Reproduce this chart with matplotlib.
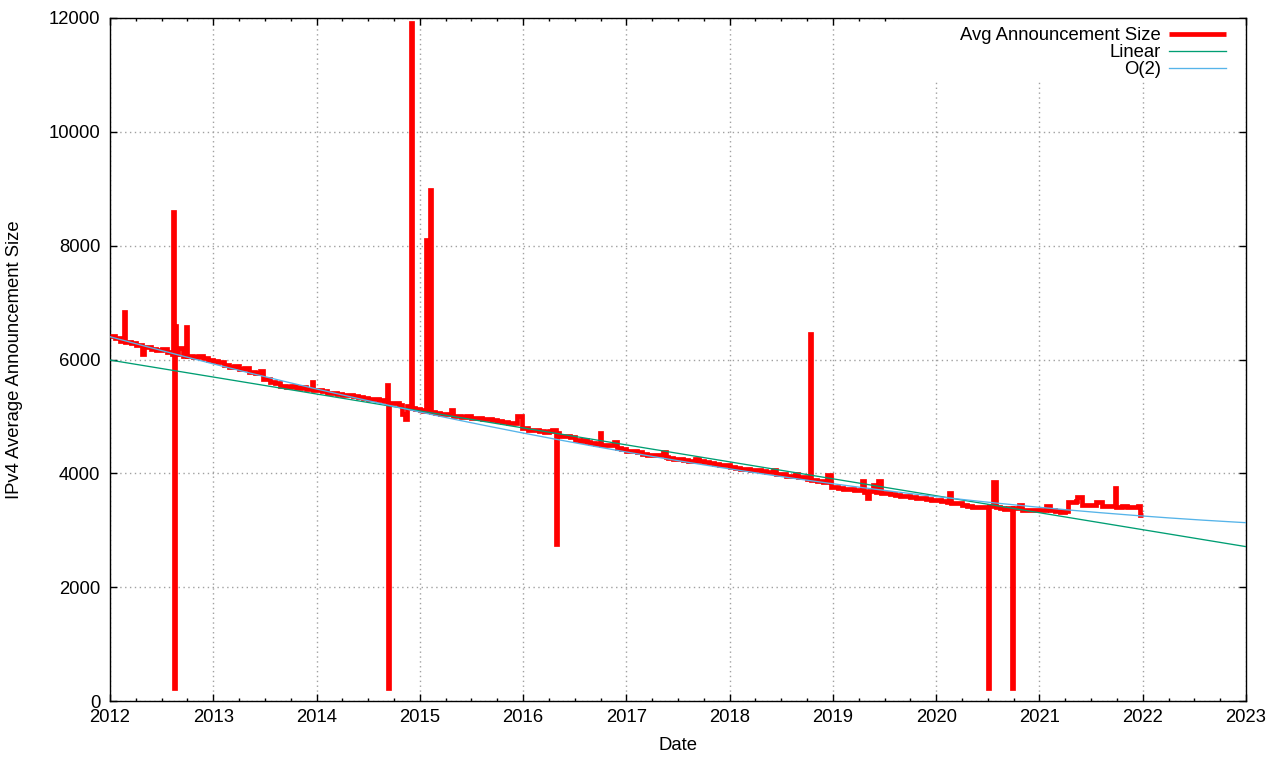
import numpy as np
import matplotlib
matplotlib.use("Agg")
import matplotlib.pyplot as plt
from matplotlib.ticker import MultipleLocator, FixedLocator
from matplotlib.patches import Rectangle

plt.rcParams['font.family'] = ['Liberation Sans', 'DejaVu Sans']

# ---- data (decimal years, average announcement size) ----
years = [
    2012.00, 2012.05, 2012.10, 2012.14, 2012.15, 2012.20, 2012.25, 2012.31, 2012.33, 2012.40,
    2012.45, 2012.50, 2012.55, 2012.60, 2012.612, 2012.618, 2012.624, 2012.630, 2012.640, 2012.660,
    2012.710, 2012.740, 2012.750, 2012.80, 2012.85, 2012.90, 2012.95, 2013.00, 2013.05, 2013.10,
    2013.15, 2013.20, 2013.25, 2013.30, 2013.35, 2013.40, 2013.45, 2013.48, 2013.55, 2013.60,
    2013.65, 2013.70, 2013.75, 2013.80, 2013.85, 2013.90, 2013.955, 2013.965, 2014.00, 2014.05,
    2014.10, 2014.15, 2014.20, 2014.25, 2014.30, 2014.35, 2014.40, 2014.45, 2014.50, 2014.55,
    2014.60, 2014.65, 2014.685, 2014.695, 2014.705, 2014.75, 2014.80, 2014.83, 2014.86, 2014.88,
    2014.915, 2014.925, 2014.95, 2015.00, 2015.03, 2015.06, 2015.07, 2015.10, 2015.11, 2015.15,
    2015.20, 2015.25, 2015.30, 2015.32, 2015.35, 2015.40, 2015.45, 2015.50, 2015.55, 2015.60,
    2015.65, 2015.70, 2015.75, 2015.80, 2015.85, 2015.90, 2015.94, 2015.985, 2016.05, 2016.10,
    2016.15, 2016.20, 2016.25, 2016.28, 2016.315, 2016.325, 2016.35, 2016.40, 2016.45, 2016.50,
    2016.55, 2016.58, 2016.62, 2016.65, 2016.70, 2016.74, 2016.75, 2016.80, 2016.85, 2016.88,
    2016.91, 2016.95, 2017.00, 2017.05, 2017.10, 2017.15, 2017.20, 2017.25, 2017.30, 2017.35,
    2017.38, 2017.40, 2017.45, 2017.50, 2017.55, 2017.60, 2017.66, 2017.70, 2017.75, 2017.80,
    2017.85, 2017.90, 2017.95, 2018.00, 2018.05, 2018.10, 2018.15, 2018.20, 2018.25, 2018.30,
    2018.35, 2018.42, 2018.45, 2018.50, 2018.55, 2018.60, 2018.63, 2018.66, 2018.70, 2018.75,
    2018.775, 2018.785, 2018.85, 2018.90, 2018.94, 2018.98, 2019.05, 2019.10, 2019.15, 2019.20,
    2019.25, 2019.28, 2019.30, 2019.33, 2019.35, 2019.39, 2019.42, 2019.44, 2019.47, 2019.50,
    2019.55, 2019.60, 2019.65, 2019.70, 2019.75, 2019.80, 2019.85, 2019.90, 2019.95, 2020.00,
    2020.05, 2020.10, 2020.12, 2020.14, 2020.20, 2020.25, 2020.30, 2020.35, 2020.40, 2020.45,
    2020.50, 2020.505, 2020.515, 2020.555, 2020.575, 2020.62, 2020.66, 2020.70, 2020.73, 2020.74,
    2020.80, 2020.83, 2020.90, 2020.95, 2021.00, 2021.05, 2021.06, 2021.10, 2021.15, 2021.20,
    2021.25, 2021.28, 2021.35, 2021.36, 2021.41, 2021.45, 2021.50, 2021.55, 2021.61, 2021.65,
    2021.70, 2021.735, 2021.745, 2021.80, 2021.85, 2021.90, 2021.95, 2021.97, 2022.00,
]
avg_size = [
    6420, 6380, 6330, 6840, 6300, 6290, 6260, 6090, 6220, 6190,
    6160, 6180, 6130, 6100, 8600, 3170, 230, 6590, 6100, 6200,
    6060, 6570, 6060, 6050, 6070, 6020, 5990, 5980, 5950, 5900,
    5870, 5880, 5830, 5850, 5780, 5760, 5790, 5650, 5600, 5580,
    5540, 5520, 5540, 5500, 5510, 5480, 5610, 5470, 5460, 5440,
    5420, 5410, 5400, 5380, 5370, 5350, 5340, 5320, 5310, 5300,
    5280, 5270, 5550, 230, 5240, 5230, 5200, 5050, 4960, 5180,
    11920, 5150, 5130, 5110, 5100, 8100, 5100, 8980, 5080, 5060,
    5050, 5040, 5110, 5010, 5000, 4990, 5000, 4980, 4970, 4960,
    4950, 4940, 4920, 4900, 4890, 4880, 5010, 4790, 4770, 4760,
    4740, 4720, 4740, 4760, 2750, 4700, 4660, 4650, 4630, 4580,
    4560, 4590, 4550, 4530, 4510, 4710, 4500, 4490, 4500, 4550,
    4440, 4420, 4400, 4390, 4370, 4340, 4320, 4330, 4320, 4370,
    4280, 4270, 4260, 4250, 4230, 4220, 4260, 4210, 4200, 4180,
    4160, 4150, 4140, 4110, 4090, 4080, 4070, 4060, 4050, 4040,
    4030, 4060, 3990, 3980, 3960, 3950, 3990, 3940, 3930, 3900,
    6450, 3880, 3860, 3850, 3970, 3760, 3740, 3730, 3720, 3710,
    3700, 3860, 3680, 3570, 3690, 3800, 3680, 3860, 3650, 3650,
    3640, 3620, 3610, 3600, 3580, 3570, 3560, 3550, 3540, 3530,
    3510, 3500, 3650, 3480, 3470, 3450, 3420, 3410, 3400, 3410,
    3400, 230, 3430, 3850, 3400, 3390, 3380, 3390, 230, 3390,
    3450, 3360, 3350, 3360, 3350, 3360, 3420, 3350, 3340, 3320,
    3340, 3500, 3510, 3590, 3450, 3440, 3450, 3500, 3430, 3420,
    3420, 3740, 3410, 3420, 3400, 3410, 3420, 3260, 3260,
]

# fitted curves, coefficients in t = year - 2012 (highest power first)
fit_origin = 2012
linear_coef = [-298.0, 5990.0]
quad_coef = [18.0, -495.0, 6400.0]

x_ticks = list(range(2012, 2024))
y_ticks = [0, 2000, 4000, 6000, 8000, 10000, 12000]

fig = plt.figure(figsize=(12.8, 7.6), dpi=100)
ax = fig.add_axes([110/1280, 59/760, 1136/1280, 683/760])

fs = 13.3
ax.step(years, avg_size, where='post', color='#ff0000', lw=3.4,
        solid_joinstyle='miter', solid_capstyle='butt',
        label='Avg Announcement Size', zorder=3)
xf = np.linspace(2012, 2023, 400)
ax.plot(xf, np.polyval(linear_coef, xf - fit_origin), color='#009e73', lw=0.95,
        label='Linear', zorder=4)
ax.plot(xf, np.polyval(quad_coef, xf - fit_origin), color='#56b4e9', lw=0.95,
        label='O(2)', zorder=4)

ax.set_xlim(2012, 2023)
ax.set_ylim(0, 12000)
ax.xaxis.set_major_locator(FixedLocator(x_ticks))
ax.set_xticklabels([str(t) for t in x_ticks])
ax.xaxis.set_minor_locator(MultipleLocator(0.25))
ax.set_yticks(y_ticks)
ax.set_yticklabels([str(t) for t in y_ticks])

ax.tick_params(which='both', direction='in', top=True, right=True,
               labelsize=fs, colors='black', width=1)
ax.tick_params(which='major', length=4.7)
ax.tick_params(axis='x', which='major', pad=6)
ax.tick_params(axis='y', which='major', pad=7)
ax.tick_params(which='minor', length=2.3)

ax.grid(True, which='major', color='#a0a0a0', lw=1.0, linestyle=(0, (1, 2.5)), zorder=0)
ax.set_axisbelow(True)
for s in ax.spines.values():
    s.set_linewidth(1.0)
    s.set_color('black')

# key area hides the grid behind it
key_bg = Rectangle((905 / 1280, (760 - 80) / 760), (1245 - 905) / 1280, (80 - 19) / 760,
                   transform=fig.transFigure, facecolor='white', edgecolor='none', zorder=1)
ax.add_artist(key_bg)

ax.set_xlabel('Date', fontsize=fs)
ax.set_ylabel('IPv4 Average Announcement Size', fontsize=fs)
ax.xaxis.label.set_va('center')
ax.yaxis.label.set_va('center')
ax.xaxis.set_label_coords(0.5, (701 - 745) / 683)
ax.yaxis.set_label_coords((15 - 110) / 1136, 0.5)

leg = ax.legend(loc='upper right', bbox_to_anchor=((1232 - 110) / 1136, 1 - 3 / 683),
                markerfirst=False, fontsize=fs, frameon=False,
                handlelength=3.05, handletextpad=0.45, labelspacing=0.0,
                borderpad=0.35, borderaxespad=0)
leg.set_zorder(5)
for t in leg.get_texts():
    t.set_ha('right')

fig.savefig('out.png', dpi=100)
